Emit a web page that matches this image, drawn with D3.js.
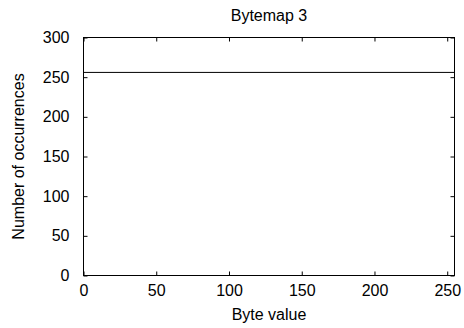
<!DOCTYPE html>
<html>
<head>
<meta charset="utf-8">
<script src="https://cdn.jsdelivr.net/npm/d3@7"></script>
<style>
  body { margin: 0; background: #fff; }
  svg { display: block; font-family: "Liberation Sans", Arial, sans-serif; }
</style>
</head>
<body>
<div id="chart"></div>
<script>
// data
var byteValues = [0, 255]
var occurrences = [256, 256]
var xTicks = [0, 50, 100, 150, 200, 250]
var yTicks = [0, 50, 100, 150, 200, 250, 300]

var W = 464, H = 328
var plotLeft = 83.5, plotRight = 454.5, plotTop = 37.5, plotBottom = 275.5

var svg = d3.select('#chart').append('svg')
  .attr('width', W)
  .attr('height', H)

var x = d3.scaleLinear().domain([0, 255]).range([plotLeft, plotRight])
var y = d3.scaleLinear().domain([0, 300]).range([plotBottom, plotTop])

// axes, gnuplot style: inward ticks mirrored on all sides
svg.append('g')
  .attr('transform', 'translate(0,' + plotBottom + ')')
  .call(d3.axisBottom(x).tickValues(xTicks).tickSizeInner(-4).tickSizeOuter(0).tickPadding(9))
svg.append('g')
  .attr('transform', 'translate(0,' + plotTop + ')')
  .call(d3.axisTop(x).tickValues(xTicks).tickSizeInner(-4).tickSizeOuter(0).tickFormat(''))
svg.append('g')
  .attr('transform', 'translate(' + plotLeft + ',0)')
  .call(d3.axisLeft(y).tickValues(yTicks).tickSizeInner(-4).tickSizeOuter(0).tickPadding(14))
svg.append('g')
  .attr('transform', 'translate(' + plotRight + ',0)')
  .call(d3.axisRight(y).tickValues(yTicks).tickSizeInner(-4).tickSizeOuter(0).tickFormat(''))

svg.selectAll('.domain').remove()
svg.selectAll('.tick line').attr('stroke', '#000')
svg.selectAll('.tick text')
  .attr('fill', '#000')
  .attr('font-size', 16)
  .attr('font-family', '"Liberation Sans", Arial, sans-serif')

// border
svg.append('rect')
  .attr('x', plotLeft)
  .attr('y', plotTop)
  .attr('width', plotRight - plotLeft)
  .attr('height', plotBottom - plotTop)
  .attr('fill', 'none')
  .attr('stroke', '#000')
  .attr('stroke-width', 1)

// data line
var pts = byteValues.map(function(b, i) { return [b, occurrences[i]] })
svg.append('path')
  .datum(pts)
  .attr('fill', 'none')
  .attr('stroke', '#000')
  .attr('stroke-width', 1)
  .attr('d', d3.line().x(function(d) { return x(d[0]) }).y(function(d) { return y(d[1]) }))

// texts
svg.append('text')
  .attr('x', (plotLeft + plotRight) / 2)
  .attr('y', 21)
  .attr('text-anchor', 'middle')
  .attr('font-size', 16)
  .text('Bytemap 3')

svg.append('text')
  .attr('x', (plotLeft + plotRight) / 2)
  .attr('y', 320)
  .attr('text-anchor', 'middle')
  .attr('font-size', 16)
  .text('Byte value')

svg.append('text')
  .attr('transform', 'translate(24,' + ((plotTop + plotBottom) / 2) + ') rotate(-90)')
  .attr('text-anchor', 'middle')
  .attr('font-size', 16)
  .text('Number of occurrences')
</script>
</body>
</html>
